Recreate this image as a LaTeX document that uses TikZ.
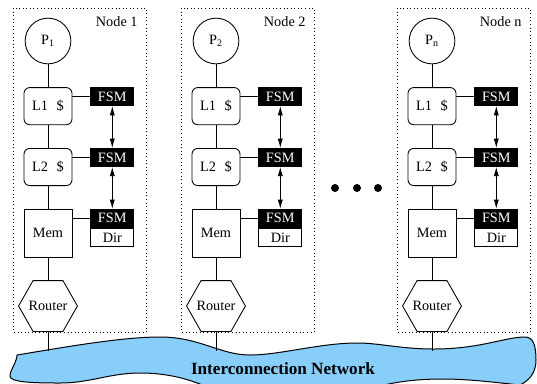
\documentclass[tikz,border=0pt]{standalone}
\usepackage{fontspec}
\setmainfont{Liberation Serif}
\usepackage{xcolor}
\usetikzlibrary{positioning,arrows.meta}
\definecolor{netblue}{RGB}{135,206,250}

\begin{document}
\begin{tikzpicture}[
    x = 0.7pt, y = -0.7pt,
    > = {Latex[length=6.5pt,width=3.6pt]},
    node distance = 16pt,
    line width = 0.6pt,
    proc/.style={circle, draw, minimum size=32pt, inner sep=0pt},
    cache/.style={rectangle, draw, rounded corners=4pt, minimum width=33.6pt, minimum height=26pt},
    mem/.style={rectangle, draw, minimum width=33.6pt, minimum height=33.6pt},
    router/.style={rectangle, minimum width=40.6pt, minimum height=35pt, inner sep=0pt},
    fsm/.style={rectangle, draw, fill=black, text=white, minimum width=30pt, minimum height=12.6pt, inner sep=0pt},
    dir/.style={rectangle, draw, fill=white, minimum width=30pt, minimum height=13pt, inner sep=0pt},
    nodebox/.style={draw, dotted, line width=0.5pt}
]
    \useasboundingbox (0,0) rectangle (537,383);

    % network
    \draw[fill=netblue, line width=0.7pt]
        (17,355) .. controls (17,362) and (10,370) .. (10,376)
        .. controls (10,382) and (30,383) .. (60,383)
        .. controls (90,383) and (110,373) .. (140,373)
        .. controls (170,373) and (190,380) .. (205,386)
        -- (380,386)
        .. controls (400,381) and (420,379) .. (443,379)
        .. controls (470,379) and (500,383) .. (520,385)
        .. controls (530,380) and (536,372) .. (536,360)
        .. controls (536,345) and (533,337) .. (525,337)
        .. controls (505,337) and (480,349) .. (434,349)
        .. controls (400,349) and (380,343) .. (357,343)
        .. controls (320,343) and (280,355) .. (250,355)
        .. controls (220,355) and (200,337) .. (160,337)
        .. controls (120,337) and (60,348) .. (17,355) -- cycle;
    \node[font=\large\bfseries] (net) at (283,369) {Interconnection Network};

    \foreach \c/\x in {1/0, 2/168, n/384} {
        \draw[nodebox] (\x+13,8) rectangle (\x+146,332);
        \node[anchor=north east, inner sep=0pt] (lbl\c) at (\x+138,16) {Node \c};

        \node[proc] (p\c) at (\x+48,41) {P\textsubscript{\c}};
        \node[cache, below=of p\c] (lone\c) {L1\hspace{0.6em}\$};
        \node[cache, below=of lone\c] (ltwo\c) {L2\hspace{0.6em}\$};
        \node[mem, below=of ltwo\c] (mem\c) {Mem};
        \node[router, below=of mem\c] (rt\c) {Router};
        \coordinate (tap\c) at (\x+48,351);

        % hexagon round the router
        \draw ([xshift=10.15pt]rt\c.north west) -- ([xshift=-10.15pt]rt\c.north east)
            -- (rt\c.east) -- ([xshift=-10.15pt]rt\c.south east)
            -- ([xshift=10.15pt]rt\c.south west) -- (rt\c.west) -- cycle;

        \node[fsm, anchor=north west] (fsma\c) at ([xshift=12.6pt]lone\c.north east) {FSM};
        \node[fsm, anchor=north west] (fsmb\c) at ([xshift=12.6pt]ltwo\c.north east) {FSM};
        \node[fsm, anchor=north west] (fsmc\c) at ([xshift=12.6pt]mem\c.north east) {FSM};
        \node[dir, below=0pt of fsmc\c] (dir\c) {Dir};

        \draw (p\c) -- (lone\c) -- (ltwo\c) -- (mem\c) -- (rt\c) -- (tap\c);
        \draw (fsma\c.west) -- (fsma\c.west -| lone\c.east);
        \draw (fsmb\c.west) -- (fsmb\c.west -| ltwo\c.east);
        \draw (fsmc\c.west) -- (fsmc\c.west -| mem\c.east);
        \draw[<->] (fsma\c) -- (fsmb\c);
        \draw[<->] (fsmb\c) -- (fsmc\c);
    }

    % more nodes
    \foreach \d/\xd in {1/335, 2/357, 3/378}
        \node[circle, fill, inner sep=0pt, minimum size=5.6pt] (dot\d) at (\xd,188) {};
\end{tikzpicture}
\end{document}
